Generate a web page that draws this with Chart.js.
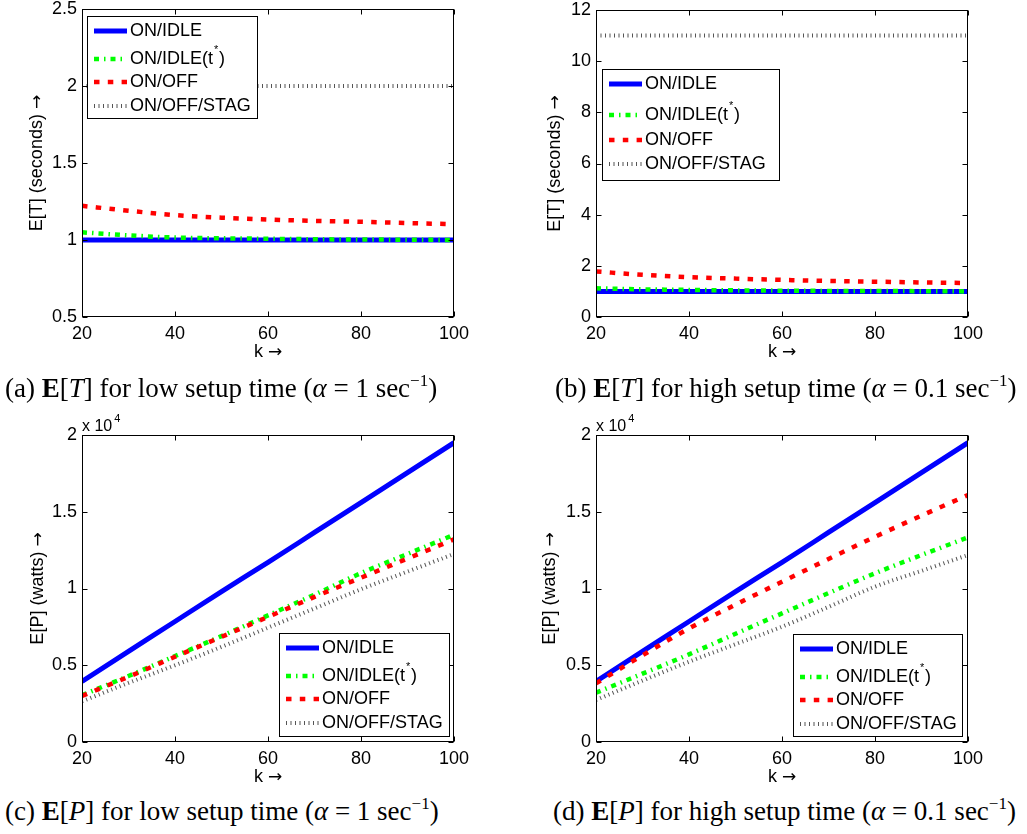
<!DOCTYPE html>
<html>
<head>
<meta charset="utf-8">
<script src="https://cdn.jsdelivr.net/npm/chart.js@4.4.0/dist/chart.umd.min.js"></script>
<style>
  body { margin: 0; background: #fff; width: 1027px; height: 834px; position: relative; overflow: hidden; }
  canvas { position: absolute; }
  .caption {
    position: absolute; white-space: nowrap; color: #000;
    font-family: "Liberation Serif", "Times New Roman", serif; font-size: 27px; line-height: 30px;
  }
  .caption sup { font-size: 17px; vertical-align: 0; position: relative; top: -11px; line-height: 0; }
</style>
</head>
<body>
<canvas id="chartA" width="500" height="365" style="left:0;top:0"></canvas>
<canvas id="chartB" width="517" height="365" style="left:510px;top:0"></canvas>
<canvas id="chartC" width="500" height="390" style="left:0;top:400px"></canvas>
<canvas id="chartD" width="517" height="390" style="left:510px;top:400px"></canvas>

<div class="caption" style="left:5px;top:373px">(a) <b>E</b>[<i>T</i>] for low setup time (<i>α</i> = 1 sec<sup>−1</sup>)</div>
<div class="caption" style="left:555px;top:373px">(b) <b>E</b>[<i>T</i>] for high setup time (<i>α</i> = 0.1 sec<sup>−1</sup>)</div>
<div class="caption" style="left:5px;top:796px">(c) <b>E</b>[<i>P</i>] for low setup time (<i>α</i> = 1 sec<sup>−1</sup>)</div>
<div class="caption" style="left:553px;top:796px">(d) <b>E</b>[<i>P</i>] for high setup time (<i>α</i> = 0.1 sec<sup>−1</sup>)</div>

<script>
// k values shared by all four panels
const kValues = [20, 30, 40, 50, 60, 70, 80, 90, 100];
const xTicks = [20, 40, 60, 80, 100];
const seriesNames = ['ON/IDLE', 'ON/IDLE(t*)', 'ON/OFF', 'ON/OFF/STAG'];

// (a) E[T], low setup time
const lowT_onIdle  = [1.0, 1.0, 1.0, 1.0, 1.0, 1.0, 1.0, 1.0, 1.0];
const lowT_onIdleT = [1.05, 1.03, 1.016, 1.011, 1.008, 1.005, 1.003, 1.002, 1.0];
const lowT_onOff   = [1.222, 1.19, 1.162, 1.145, 1.133, 1.124, 1.118, 1.11, 1.103];
const lowT_stag    = [2.0, 2.0, 2.0, 2.0, 2.0, 2.0, 2.0, 2.0, 2.0];
const lowT_yTicks  = [0.5, 1, 1.5, 2, 2.5];

// (b) E[T], high setup time
const highT_onIdle  = [1.0, 1.0, 1.0, 1.0, 1.0, 1.0, 1.0, 1.0, 1.0];
const highT_onIdleT = [1.12, 1.08, 1.06, 1.04, 1.03, 1.02, 1.015, 1.01, 1.0];
const highT_onOff   = [1.78, 1.65, 1.56, 1.50, 1.45, 1.41, 1.38, 1.35, 1.33];
const highT_stag    = [11, 11, 11, 11, 11, 11, 11, 11, 11];
const highT_yTicks  = [0, 2, 4, 6, 8, 10, 12];

// (c) E[P], low setup time (watts)
const lowP_onIdle  = [3950, 5900, 7850, 9800, 11700, 13650, 15600, 17550, 19500];
const lowP_onIdleT = [3050, 4300, 5600, 6900, 8250, 9600, 11000, 12250, 13500];
const lowP_onOff   = [3000, 4250, 5550, 6850, 8150, 9450, 10700, 11950, 13200];
const lowP_stag    = [2650, 3850, 5000, 6200, 7450, 8700, 9950, 11100, 12250];

// (d) E[P], high setup time (watts)
const highP_onIdle  = [3950, 5900, 7850, 9800, 11700, 13650, 15600, 17550, 19500];
const highP_onIdleT = [3210, 4450, 5710, 7050, 8380, 9700, 10990, 12180, 13330];
const highP_onOff   = [3820, 5650, 7400, 8950, 10440, 11920, 13370, 14750, 16090];
const highP_stag    = [2740, 4000, 5230, 6370, 7510, 8800, 10120, 11150, 12180];
const power_yTicks  = [0, 5000, 10000, 15000, 20000];

const FONT = '"Liberation Sans", Arial, Helvetica, sans-serif';
const ARROW_FONT = '"DejaVu Sans", sans-serif';

const styles = [
    { color: '#0000ff', width: 5,   dash: [] },
    { color: '#00ff00', width: 4.5, dash: [5, 5, 1.5, 5] },
    { color: '#ff0000', width: 4.5, dash: [5.5, 8.3] },
    { color: '#555555', width: 4,   dash: [1, 3.5] }
];

function strokeSample(ctx, st, x0, x1, y) {
    ctx.save();
    ctx.strokeStyle = st.color;
    ctx.lineWidth = st.width;
    ctx.lineCap = 'butt';
    ctx.setLineDash(st.dash);
    ctx.beginPath();
    ctx.moveTo(x0, y);
    ctx.lineTo(x1, y);
    ctx.stroke();
    ctx.restore();
}

// axis title with a wide math-style arrow, centred on (0,0) of the current transform
function drawArrowTitle(ctx, text) {
    ctx.font = '18px ' + FONT;
    const w1 = ctx.measureText(text + ' ').width;
    ctx.font = '17px ' + ARROW_FONT;
    const w2 = ctx.measureText('→').width;
    const start = -(w1 + w2) / 2;
    ctx.textAlign = 'left';
    ctx.textBaseline = 'middle';
    ctx.font = '18px ' + FONT;
    ctx.fillText(text + ' ', start, 0);
    ctx.font = '17px ' + ARROW_FONT;
    ctx.fillText('→', start + w1, 1);
}

// MATLAB-like box with inward ticks, axis titles, in-plot legend and exponent label
const matlabAxes = {
    id: 'matlabAxes',
    afterDatasetsDraw(chart) {
        const { ctx, chartArea: a, scales: { x, y } } = chart;
        const L = Math.round(a.left) + 0.5, R = Math.round(a.right) - 0.5;
        const T = Math.round(a.top) + 0.5, B = Math.round(a.bottom) - 0.5;
        ctx.save();
        ctx.strokeStyle = '#000';
        ctx.lineWidth = 1;
        ctx.beginPath();
        x.ticks.forEach(t => {
            const px = Math.round(x.getPixelForValue(t.value)) + 0.5;
            ctx.moveTo(px, B); ctx.lineTo(px, B - 5);
            ctx.moveTo(px, T); ctx.lineTo(px, T + 5);
        });
        y.ticks.forEach(t => {
            const py = Math.round(y.getPixelForValue(t.value)) + 0.5;
            ctx.moveTo(L, py); ctx.lineTo(L + 5, py);
            ctx.moveTo(R, py); ctx.lineTo(R - 5, py);
        });
        ctx.stroke();
        ctx.strokeRect(L, T, R - L, B - T);
        ctx.restore();
    },
    afterDraw(chart, args, opts) {
        const { ctx, chartArea: a } = chart;

        // axis titles
        ctx.save();
        ctx.fillStyle = '#000';
        ctx.translate((a.left + a.right) / 2, chart.height - opts.xTitleOffset);
        drawArrowTitle(ctx, 'k');
        ctx.restore();
        ctx.save();
        ctx.fillStyle = '#000';
        ctx.translate(opts.yTitleX, (a.top + a.bottom) / 2);
        ctx.rotate(-Math.PI / 2);
        drawArrowTitle(ctx, opts.yTitle);
        ctx.restore();

        // legend box
        const lg = opts.legend;
        const left = Math.round(lg.anchor === 'tl' ? a.left + lg.dx : a.right - lg.dx - lg.w);
        const top = Math.round(lg.anchor === 'tl' ? a.top + lg.dy : a.bottom - lg.dy - lg.h);
        ctx.save();
        ctx.fillStyle = '#fff';
        ctx.fillRect(left, top, lg.w, lg.h);
        ctx.strokeStyle = '#000';
        ctx.lineWidth = 1;
        ctx.strokeRect(left + 0.5, top + 0.5, lg.w, lg.h);
        ctx.fillStyle = '#000';
        ctx.textBaseline = 'middle';
        seriesNames.forEach((name, i) => {
            const ry = top + lg.rows[i];
            strokeSample(ctx, styles[i], left + 7, left + 40, ry);
            ctx.font = '18px ' + FONT;
            if (name.endsWith('(t*)')) {
                const base = 'ON/IDLE(t';
                ctx.fillText(base, left + 43, ry);
                const w = ctx.measureText(base).width;
                ctx.font = '11px ' + FONT;
                ctx.fillText('*', left + 43 + w + 1, ry - 9);
                ctx.font = '18px ' + FONT;
                ctx.fillText(')', left + 43 + w + 6, ry);
            } else {
                ctx.fillText(name, left + 43, ry);
            }
        });
        if (opts.exponent) {
            ctx.textBaseline = 'alphabetic';
            ctx.font = '16px ' + FONT;
            ctx.fillText('x 10', a.left, a.top - 4);
            const w = ctx.measureText('x 10').width;
            ctx.font = '11px ' + FONT;
            ctx.fillText('4', a.left + w + 2, a.top - 13);
        }
        ctx.restore();
    }
};

function makeChart(id, cfg) {
    const datasets = cfg.series.map((vals, i) => ({
        label: seriesNames[i],
        data: kValues.map((k, j) => ({ x: k, y: vals[j] })),
        borderColor: styles[i].color,
        borderWidth: styles[i].width,
        borderDash: styles[i].dash,
        borderCapStyle: 'butt',
        cubicInterpolationMode: 'monotone',
        pointRadius: 0,
        fill: false,
        order: 4 - i
    }));

    return new Chart(document.getElementById(id), {
        type: 'line',
        data: { datasets },
        plugins: [matlabAxes],
        options: {
            responsive: false,
            animation: false,
            events: [],
            layout: { padding: cfg.padding },
            plugins: {
                legend: { display: false },
                tooltip: { enabled: false },
                matlabAxes: {
                    legend: cfg.legend, exponent: cfg.exponent,
                    yTitle: cfg.yTitle, yTitleX: cfg.yTitleX, xTitleOffset: 13
                }
            },
            scales: {
                x: {
                    type: 'linear', min: 20, max: 100,
                    afterBuildTicks: s => { s.ticks = xTicks.map(v => ({ value: v })); },
                    grid: { display: false, drawTicks: false },
                    border: { display: false },
                    ticks: { color: '#000', font: { family: FONT, size: 18 }, padding: 6, maxRotation: 0 },
                    afterFit: s => { s.height = 48; s.paddingLeft = 0; s.paddingRight = 0; }
                },
                y: {
                    type: 'linear', min: cfg.yTicks[0], max: cfg.yTicks[cfg.yTicks.length - 1],
                    afterBuildTicks: s => { s.ticks = cfg.yTicks.map(v => ({ value: v })); },
                    grid: { display: false, drawTicks: false },
                    border: { display: false },
                    ticks: { color: '#000', font: { family: FONT, size: 18 }, padding: 5, callback: cfg.fmt },
                    afterFit: s => { s.width = cfg.yWidth; s.paddingTop = 0; s.paddingBottom = 0; }
                }
            }
        }
    });
}

const plainFmt = v => String(v);
const powerFmt = v => String(v / 10000);

makeChart('chartA', {
    series: [lowT_onIdle, lowT_onIdleT, lowT_onOff, lowT_stag],
    yTicks: lowT_yTicks, fmt: plainFmt,
    yTitle: 'E[T] (seconds)', yTitleX: 37, yWidth: 82,
    padding: { left: 0, top: 9, right: 46, bottom: 0 },
    legend: { anchor: 'tl', dx: 5, dy: 7, w: 170, h: 102, rows: [15, 43, 66, 90] }
});

makeChart('chartB', {
    series: [highT_onIdle, highT_onIdleT, highT_onOff, highT_stag],
    yTicks: highT_yTicks, fmt: plainFmt,
    yTitle: 'E[T] (seconds)', yTitleX: 45, yWidth: 86,
    padding: { left: 0, top: 10, right: 59, bottom: 0 },
    legend: { anchor: 'tl', dx: 6, dy: 59, w: 177, h: 111, rows: [15, 46, 71, 95] }
});

makeChart('chartC', {
    series: [lowP_onIdle, lowP_onIdleT, lowP_onOff, lowP_stag],
    yTicks: power_yTicks, fmt: powerFmt,
    yTitle: 'E[P] (watts)', yTitleX: 38, yWidth: 82,
    padding: { left: 0, top: 35, right: 46, bottom: 0 },
    legend: { anchor: 'br', dx: 5, dy: 6, w: 170, h: 103, rows: [15, 43, 66, 90] },
    exponent: true
});

makeChart('chartD', {
    series: [highP_onIdle, highP_onIdleT, highP_onOff, highP_stag],
    yTicks: power_yTicks, fmt: powerFmt,
    yTitle: 'E[P] (watts)', yTitleX: 40, yWidth: 86,
    padding: { left: 0, top: 35, right: 59, bottom: 0 },
    legend: { anchor: 'br', dx: 6, dy: 6, w: 169, h: 102, rows: [15, 43, 66, 90] },
    exponent: true
});
</script>
</body>
</html>
